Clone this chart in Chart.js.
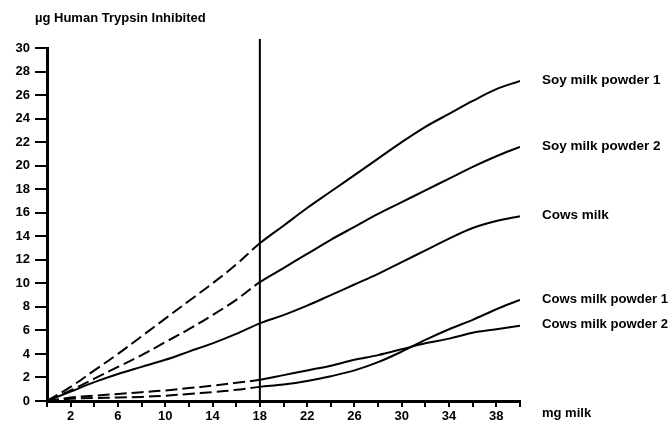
<!DOCTYPE html>
<html>
<head>
<meta charset="utf-8">
<script src="https://cdn.jsdelivr.net/npm/chart.js@4/dist/chart.umd.min.js"></script>
<style>
  html, body { margin: 0; padding: 0; background: #fff; }
  #wrap { width: 669px; height: 426px; }
</style>
</head>
<body>
<div id="wrap"><canvas id="chart"></canvas></div>
<script>
// mg milk
const xValues = [0, 2, 4, 6, 8, 10, 12, 14, 16, 18, 20, 22, 24, 26, 28, 30, 32, 34, 36, 38, 40];

// µg human trypsin inhibited
const soyPowder1 = [0, 1.2, 2.6, 4.0, 5.5, 7.0, 8.5, 10.0, 11.6, 13.4, 14.9, 16.4, 17.8, 19.2, 20.6, 22.0, 23.3, 24.4, 25.5, 26.5, 27.2];
const soyPowder2 = [0, 0.9, 1.9, 2.9, 3.9, 5.0, 6.1, 7.3, 8.6, 10.1, 11.3, 12.5, 13.7, 14.8, 15.9, 16.9, 17.9, 18.9, 19.9, 20.8, 21.6];
const cowsMilk = [0, 0.8, 1.6, 2.3, 2.9, 3.5, 4.2, 4.9, 5.7, 6.6, 7.3, 8.1, 9.0, 9.9, 10.8, 11.8, 12.8, 13.8, 14.7, 15.3, 15.7];
const cowsPowder1 = [0, 0.2, 0.25, 0.3, 0.35, 0.45, 0.6, 0.75, 0.95, 1.2, 1.4, 1.7, 2.1, 2.6, 3.3, 4.2, 5.2, 6.1, 6.9, 7.8, 8.6];
const cowsPowder2 = [0, 0.3, 0.45, 0.6, 0.75, 0.9, 1.1, 1.3, 1.55, 1.8, 2.2, 2.6, 3.0, 3.5, 3.9, 4.4, 4.9, 5.3, 5.8, 6.1, 6.4];

const seriesNames = ['Soy milk powder 1', 'Soy milk powder 2', 'Cows milk', 'Cows milk powder 1', 'Cows milk powder 2'];
const seriesValues = [soyPowder1, soyPowder2, cowsMilk, cowsPowder1, cowsPowder2];
const dashedBefore = [true, true, false, true, true];
const markerX = 18;

const yTitle = '\u00b5g Human Trypsin Inhibited';
const xTitle = 'mg milk';

const FONT = '"Liberation Sans", Arial, Helvetica, sans-serif';

const datasets = seriesValues.map((vals, i) => ({
    label: seriesNames[i],
    data: vals.map((v, j) => ({ x: xValues[j], y: v })),
    borderColor: '#000',
    borderWidth: 2,
    pointRadius: 0,
    fill: false,
    tension: 0.35,
    segment: {
        borderDash: ctx => (dashedBefore[i] && ctx.p1.parsed.x <= markerX) ? [12, 5] : undefined
    }
}));

const annotations = {
    id: 'annotations',
    afterDatasetsDraw(chart) {
        const { ctx, chartArea, scales, width } = chart;
        ctx.save();
        // vertical line at 18 mg
        const lx = scales.x.getPixelForValue(markerX);
        ctx.strokeStyle = '#000';
        ctx.lineWidth = 2;
        ctx.beginPath();
        ctx.moveTo(lx, chartArea.top - 9);
        ctx.lineTo(lx, chartArea.bottom);
        ctx.stroke();

        // series labels at the line ends
        ctx.fillStyle = '#000';
        ctx.font = 'bold 13.5px ' + FONT;
        ctx.textBaseline = 'middle';
        ctx.textAlign = 'left';
        const lxText = chartArea.right + 22;
        chart.data.datasets.forEach(ds => {
            const last = ds.data[ds.data.length - 1];
            const py = scales.y.getPixelForValue(last.y);
            ctx.fillText(ds.label, lxText, py - 1, width - lxText - 1);
        });

        // axis titles
        ctx.font = 'bold 13px ' + FONT;
        ctx.fillText(yTitle, 35, 18);
        ctx.fillText(xTitle, lxText, chartArea.bottom + 12);
        ctx.restore();
    }
};

new Chart(document.getElementById('chart'), {
    type: 'line',
    data: { datasets },
    plugins: [annotations],
    options: {
        responsive: true,
        maintainAspectRatio: false,
        animation: false,
        layout: { padding: { top: 48, right: 149, left: 0, bottom: 0 } },
        plugins: {
            legend: { display: false },
            tooltip: { enabled: false }
        },
        scales: {
            x: {
                type: 'linear',
                min: 0,
                max: 40,
                afterFit: s => { s.height = 25; },
                border: { display: true, color: '#000', width: 3 },
                grid: { drawOnChartArea: false, color: '#000', tickLength: 6, lineWidth: 2 },
                ticks: {
                    stepSize: 2,
                    padding: 2,
                    color: '#000',
                    font: { family: FONT, size: 13, weight: 'bold' },
                    callback: v => (v % 4 === 2 ? String(v) : '')
                }
            },
            y: {
                min: 0,
                max: 30,
                afterFit: s => { s.width = 47; },
                border: { display: true, color: '#000', width: 3 },
                grid: { drawOnChartArea: false, color: '#000', tickLength: 12, lineWidth: 2 },
                ticks: {
                    stepSize: 2,
                    padding: 5,
                    color: '#000',
                    font: { family: FONT, size: 13, weight: 'bold' }
                }
            }
        }
    }
});
</script>
</body>
</html>
